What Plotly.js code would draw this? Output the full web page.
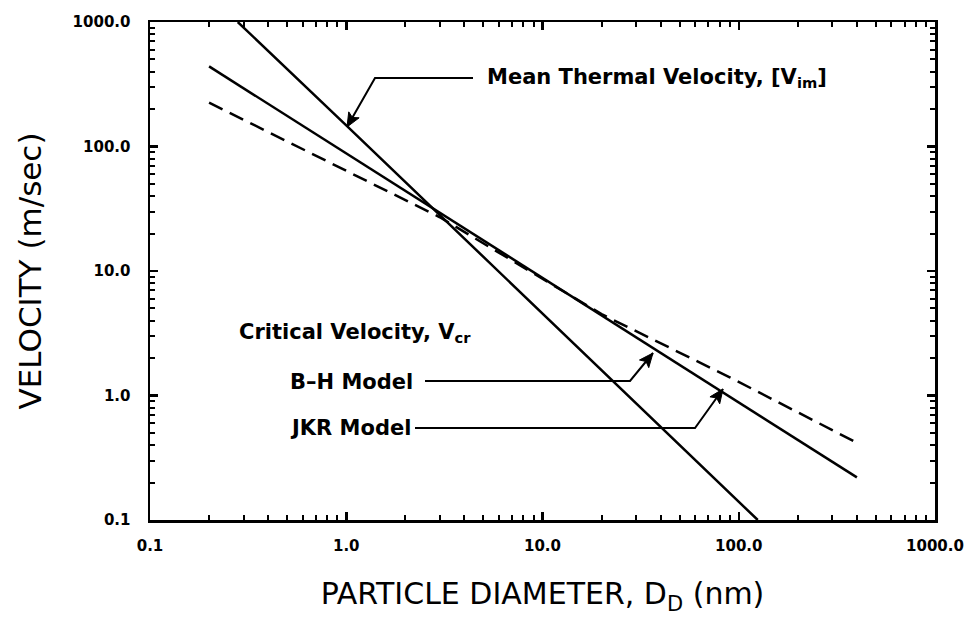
<!DOCTYPE html>
<html>
<head>
<meta charset="utf-8">
<script src="https://cdn.plot.ly/plotly-3.0.1.min.js"></script>
<style>html,body{margin:0;padding:0;background:#fff;}#chart{width:970px;height:627px;}</style>
</head>
<body>
<div id="chart"></div>
<script>
// Data (log-log axes)
const thermalD = [0.28, 1.0, 125];
const thermalV = [1000, 148, 0.1];
const jkrD = [0.2, 2.0, 20, 400];
const jkrV = [440, 44, 4.4, 0.22];
const bhD = [0.2, 3.0, 20, 90, 400];
const bhV = [225, 27, 4.5, 1.4, 0.417];
const tickVals = [0.1, 1, 10, 100, 1000];
const tickText = ["0.1", "1.0", "10.0", "100.0", "1000.0"];

// minor tick positions (2..9 in each decade)
const minorVals = [];
for (let e = -1; e < 3; e++) for (let k = 2; k <= 9; k++) minorVals.push(k * Math.pow(10, e));

// plot area in pixels
const L = 150, R = 935, T = 22, B = 520;
const px = x => (x - L) / (R - L);
const py = y => (B - y) / (B - T);

const lineStyle = {color: "#000", width: 2.5};
const traces = [
  {x: thermalD, y: thermalV, mode: "lines", line: lineStyle, name: "Mean Thermal Velocity"},
  {x: jkrD, y: jkrV, mode: "lines", line: lineStyle, name: "JKR Model"},
  {x: bhD, y: bhV, mode: "lines", line: {color: "#000", width: 2.5, dash: "15px,8px"}, name: "B-H Model"}
];

const axisCommon = {
  type: "log", range: [-1, 3],
  tickmode: "array", tickvals: tickVals, ticktext: tickText,
  ticks: "inside", ticklen: 8, tickwidth: 2.5, tickcolor: "#000",
  minor: {tickmode: "array", tickvals: minorVals, ticks: "inside", ticklen: 5, tickwidth: 2, tickcolor: "#000", showgrid: false},
  showline: true, linecolor: "#000", linewidth: 2.5, mirror: "allticks",
  showgrid: false, zeroline: false,
  tickfont: {family: "DejaVu Sans", size: 15, color: "#000", weight: "bold"},
  automargin: false
};

const afont = {family: "DejaVu Sans", size: 21, color: "#000", weight: "bold"};
const textAnn = (x, y, t) => ({xref: "paper", yref: "paper", x: px(x), y: py(y), text: t,
  showarrow: false, xanchor: "left", yanchor: "middle", font: afont});

// leader: list of pixel points, last one is the arrow tip
function leaderShapes(pts) {
  const d = pts.map((p, i) => (i ? "L" : "M") + px(p[0]) + "," + py(p[1])).join(" ");
  const tip = pts[pts.length - 1], s = pts[pts.length - 2];
  const dx = tip[0] - s[0], dy = tip[1] - s[1], n = Math.hypot(dx, dy);
  const ux = dx / n, uy = dy / n, hl = 14, hw = 6;
  const bx = tip[0] - hl * ux, by = tip[1] - hl * uy;
  const nx = bx + 3 * ux, ny = by + 3 * uy; // notch
  const c1 = [bx - hw * uy, by + hw * ux], c2 = [bx + hw * uy, by - hw * ux];
  const head = "M" + px(tip[0]) + "," + py(tip[1]) + " L" + px(c1[0]) + "," + py(c1[1]) +
    " L" + px(nx) + "," + py(ny) + " L" + px(c2[0]) + "," + py(c2[1]) + " Z";
  return [
    {type: "path", xref: "paper", yref: "paper", path: d, line: {color: "#000", width: 2}},
    {type: "path", xref: "paper", yref: "paper", path: head, fillcolor: "#000", line: {color: "#000", width: 1}}
  ];
}

const layout = {
  width: 970, height: 627,
  margin: {l: L, r: 970 - R, t: T, b: 627 - B},
  paper_bgcolor: "#fff", plot_bgcolor: "#fff",
  showlegend: false,
  xaxis: Object.assign({}, axisCommon, {
    ticklabelstandoff: 10,
    title: {text: "PARTICLE DIAMETER, D<sub>D</sub> (nm)", standoff: 30,
      font: {family: "DejaVu Sans", size: 30, color: "#000"}}
  }),
  yaxis: Object.assign({}, axisCommon, {
    ticklabelstandoff: 14,
    title: {text: "VELOCITY (m/sec)", standoff: 22,
      font: {family: "DejaVu Sans", size: 31, color: "#000"}}
  }),
  annotations: [
    textAnn(485, 78, "Mean Thermal Velocity, [V<sub>im</sub>]"),
    textAnn(237, 333, "Critical Velocity, V<sub>cr</sub>"),
    textAnn(288, 382, "B–H Model"),
    textAnn(288, 428, "JKR Model")
  ],
  shapes: [].concat(
    leaderShapes([[473, 78], [375, 78], [347, 127]]),
    leaderShapes([[425, 381], [630, 381], [653, 353]]),
    leaderShapes([[415, 428], [695, 428], [723, 389]])
  )
};

Plotly.newPlot("chart", traces, layout, {staticPlot: true, displayModeBar: false});
</script>
</body>
</html>
